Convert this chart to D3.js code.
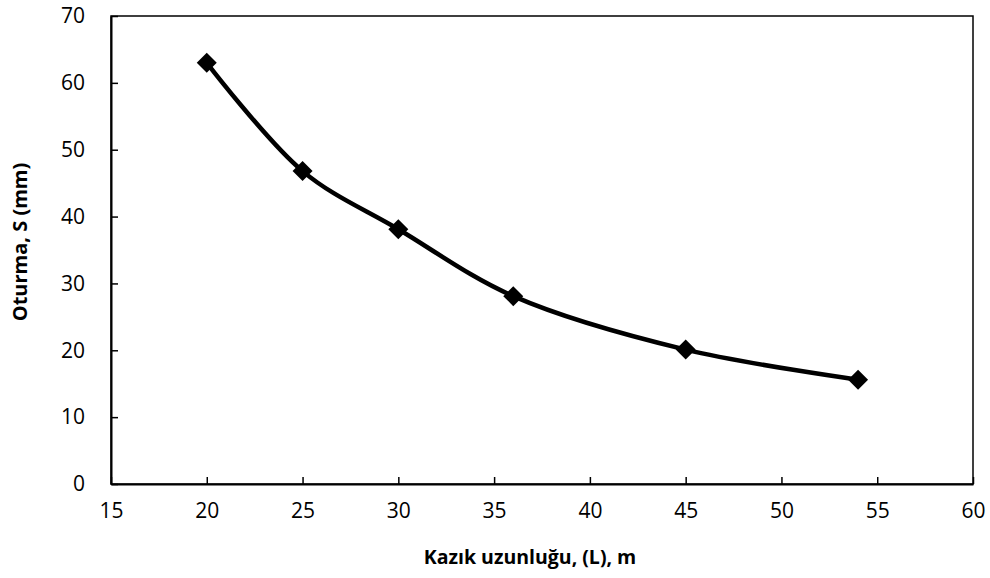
<!DOCTYPE html>
<html><head><meta charset="utf-8">
<script src="https://cdn.jsdelivr.net/npm/d3@7"></script>
<style>body{margin:0;background:#fff}svg{display:block}</style>
</head><body>
<svg id="c" width="990" height="578"></svg>
<script>
const xValues = [20, 25, 30, 36, 45, 54];
const sValues = [63.0, 46.8, 38.1, 28.1, 20.1, 15.6];
const xTicks = [15, 20, 25, 30, 35, 40, 45, 50, 55, 60];
const yTicks = [0, 10, 20, 30, 40, 50, 60, 70];

const svg = d3.select("#c");
const m = {l:111, r:973, t:16, b:484};
const x = d3.scaleLinear().domain([15,60]).range([m.l,m.r]);
const y = d3.scaleLinear().domain([0,70]).range([m.b,m.t]);
const font = "'Open Sans', sans-serif";

svg.append("rect").attr("x",m.l).attr("y",m.t).attr("width",m.r-m.l).attr("height",m.b-m.t)
  .attr("fill","none").attr("stroke","#000").attr("stroke-width",1.5);

const gx = svg.append("g").attr("transform",`translate(0,${m.b})`)
  .call(d3.axisBottom(x).tickValues(xTicks).tickSizeInner(-7).tickSizeOuter(0).tickPadding(19));
const gy = svg.append("g").attr("transform",`translate(${m.l},0)`)
  .call(d3.axisLeft(y).tickValues(yTicks).tickSizeInner(-7).tickSizeOuter(0).tickPadding(26));
[gx,gy].forEach(g=>{
  g.select(".domain").attr("stroke","#000").attr("stroke-width",2);
  g.selectAll(".tick line").attr("stroke","#000").attr("stroke-width",1.5);
  g.selectAll(".tick text").attr("fill","#000").style("font-family",font).style("font-size","21px");
});

const pts = xValues.map((v,i)=>[v,sValues[i]]);
svg.append("path").datum(pts)
  .attr("d", d3.line().x(d=>x(d[0])).y(d=>y(d[1])).curve(d3.curveCatmullRom.alpha(0.5)))
  .attr("fill","none").attr("stroke","#000").attr("stroke-width",4.5);

svg.selectAll(".mk").data(pts).join("path").attr("class","mk")
  .attr("d", d3.symbol(d3.symbolSquare, 200))
  .attr("transform",d=>`translate(${x(d[0])},${y(d[1])}) rotate(45)`)
  .attr("fill","#000");

svg.append("text").attr("x",530).attr("y",564).attr("text-anchor","middle")
  .style("font-family",font).style("font-weight","bold").style("font-size","19.5px")
  .text("Kazık uzunluğu, (L), m");
svg.append("text").attr("transform",`translate(27,242) rotate(-90)`).attr("text-anchor","middle")
  .style("font-family",font).style("font-weight","bold").style("font-size","20px")
  .text("Oturma, S (mm)");
</script>
</body></html>
